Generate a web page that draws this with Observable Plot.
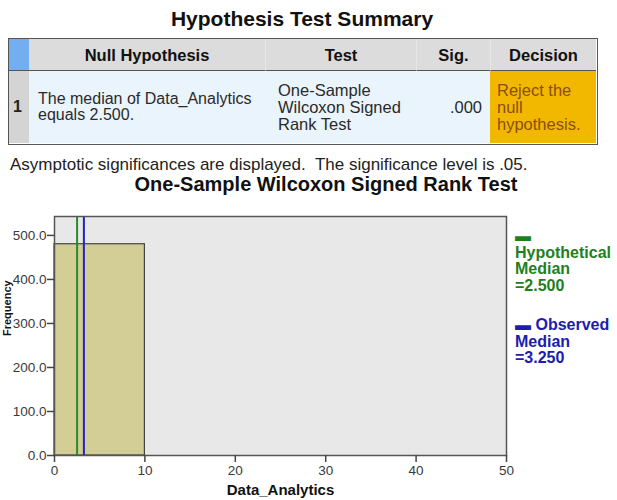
<!DOCTYPE html>
<html>
<head>
<meta charset="utf-8">
<script src="https://cdn.jsdelivr.net/npm/d3@7"></script>
<script src="https://cdn.jsdelivr.net/npm/@observablehq/plot@0.6"></script>
<style>
  body { margin:0; background:#fff; font-family:"Liberation Sans", Arial, sans-serif; }
  #page { position:relative; width:617px; height:500px; overflow:hidden; }
  .abs { position:absolute; }
  #title { left:0; width:604px; top:7px; text-align:center; font-weight:bold; font-size:21px; color:#111; }
  #tbl { left:8px; top:38px; width:590px; height:107px; border:1.5px solid #555; box-sizing:border-box; }
  .cell { position:absolute; box-sizing:border-box; color:#2a2a2a; }
  .hdr { top:0; height:32px; background:#dcdcdc; font-weight:bold; font-size:16.5px; line-height:32px; text-align:center; border-bottom:1.5px solid #555; color:#111; }
  .body { top:32px; height:72px; background:#eaf4fc; font-size:16.5px; display:flex; align-items:center; }
  #caption { left:10px; top:155px; font-size:17px; color:#222; white-space:pre; }
  #ctitle { left:0; width:652px; top:173px; text-align:center; font-weight:bold; font-size:20px; color:#111; }
  #chart { left:0; top:200px; }
  .leg { position:absolute; font-weight:bold; font-size:16px; line-height:16px; white-space:nowrap; }
</style>
</head>
<body>
<div id="page">
  <div id="title" class="abs"></div>
  <div id="tbl" class="abs"></div>
  <div id="caption" class="abs"></div>
  <div id="ctitle" class="abs"></div>
  <div id="chart" class="abs"></div>
  <div id="legend" class="abs" style="left:515px; top:228px;"></div>
</div>
<script>
// ---- Table data ----
const tableTitle = "Hypothesis Test Summary";
const tableHeaders = ["Null Hypothesis", "Test", "Sig.", "Decision"];
const rowNumber = ["1"];
const nullHypothesis = ["The median of Data_Analytics", "equals 2.500."];
const testName = ["One-Sample", "Wilcoxon Signed", "Rank Test"];
const sigValue = [".000"];
const decision = ["Reject the", "null", "hypothesis."];
const captionText = "Asymptotic significances are displayed.  The significance level is .05.";
const chartTitle = "One-Sample Wilcoxon Signed Rank Test";

// ---- Chart data ----
const binStart = [0];
const binEnd = [10];
const binFreq = [480];
const hypotheticalMedian = [2.5];
const observedMedian = [3.25];
const xTicks = [0, 10, 20, 30, 40, 50];
const yTicks = [0, 100, 200, 300, 400, 500];
const xLabel = "Data_Analytics";
const yLabel = "Frequency";
const legendItems = [
  {lines: ["▬", "Hypothetical", "Median", "=2.500"], color: "#1f7f1f"},
  {lines: ["▬ Observed", "Median", "=3.250"], color: "#1c1caf"}
];

// ---- Build table ----
document.getElementById("title").textContent = tableTitle;
document.getElementById("caption").textContent = captionText;
document.getElementById("ctitle").textContent = chartTitle;
const tbl = document.getElementById("tbl");
function addCell(cls, left, width, html, extra) {
  const d = document.createElement("div");
  d.className = "cell " + cls;
  d.style.left = left + "px";
  d.style.width = width + "px";
  if (extra) Object.assign(d.style, extra);
  d.innerHTML = html;
  tbl.appendChild(d);
  return d;
}
// header
addCell("hdr", 0, 20, "", {background:"#73aef0"});
const hx = [20, 256, 407, 481];
const hw = [236, 151, 74, 106];
tableHeaders.forEach((h, i) => addCell("hdr", hx[i], hw[i], h, {borderLeft: i ? "1px solid #e6e6e6" : "none"}));
// body
addCell("body", 0, 20, "<b style='margin-left:4px;font-size:16px;color:#222'>" + rowNumber[0] + "</b>", {background:"#d4d4d4"});
addCell("body", 20, 236, "<span style='margin-left:9px;line-height:16px;font-size:16px'>" + nullHypothesis.join("<br>") + "</span>");
addCell("body", 256, 151, "<span style='margin-left:13px;line-height:17px'>" + testName.join("<br>") + "</span>");
addCell("body", 407, 74, "<span style='margin-left:auto;margin-right:8px'>" + sigValue[0] + "</span>");
addCell("body", 481, 106, "<span style='margin-left:7px;line-height:17px'>" + decision.join("<br>") + "</span>", {background:"#f2b800", color:"#8a4e10"});

// ---- Legend ----
const leg = document.getElementById("legend");
let ly = 0;
legendItems.forEach((it) => {
  it.lines.forEach((t) => {
    const d = document.createElement("div");
    d.className = "leg";
    d.style.top = ly + "px";
    d.style.left = "0px";
    d.style.color = it.color;
    d.textContent = t;
    leg.appendChild(d);
    ly += 16.5;
  });
  ly += 23;
});

// ---- Chart ----
const bins = binStart.map((s, i) => ({x1: s, x2: binEnd[i], y: binFreq[i]}));
const chart = Plot.plot({
  width: 617,
  height: 300,
  marginLeft: 54,
  marginRight: 111,
  marginTop: 16,
  marginBottom: 45,
  style: {fontFamily: "Liberation Sans, Arial, sans-serif", fontSize: "13.5px", color: "#3a3a3a", background: "transparent"},
  x: {domain: [0, 50]},
  y: {domain: [0, 543]},
  marks: [
    Plot.frame({fill: "#e8e8e8"}),
    Plot.rectY(bins, {x1: "x1", x2: "x2", y: "y", fill: "#d3cd96", stroke: "#444", strokeWidth: 1.2}),
    Plot.ruleX(hypotheticalMedian, {stroke: "#2a8a2a", strokeWidth: 2}),
    Plot.ruleX(observedMedian, {stroke: "#2222c8", strokeWidth: 2}),
    Plot.frame({stroke: "#555", strokeWidth: 1.5}),
    Plot.axisX({ticks: xTicks, tickSize: 7, tickPadding: 3, label: null, stroke: "#444", strokeWidth: 1.5, tickFormat: d => String(d)}),
    Plot.axisY({ticks: yTicks, tickSize: 7, tickPadding: 1, label: null, stroke: "#444", strokeWidth: 1.5, tickFormat: d => d.toFixed(1)}),
    Plot.text([xLabel], {frameAnchor: "bottom", dy: 39, text: d => d, fontWeight: "bold", fontSize: 15, fill: "#111"}),
    Plot.text([yLabel], {frameAnchor: "left", dx: -47.5, rotate: -90, text: d => d, fontWeight: "bold", fontSize: 11, fill: "#111"})
  ]
});
document.getElementById("chart").appendChild(chart);
</script>
</body>
</html>
